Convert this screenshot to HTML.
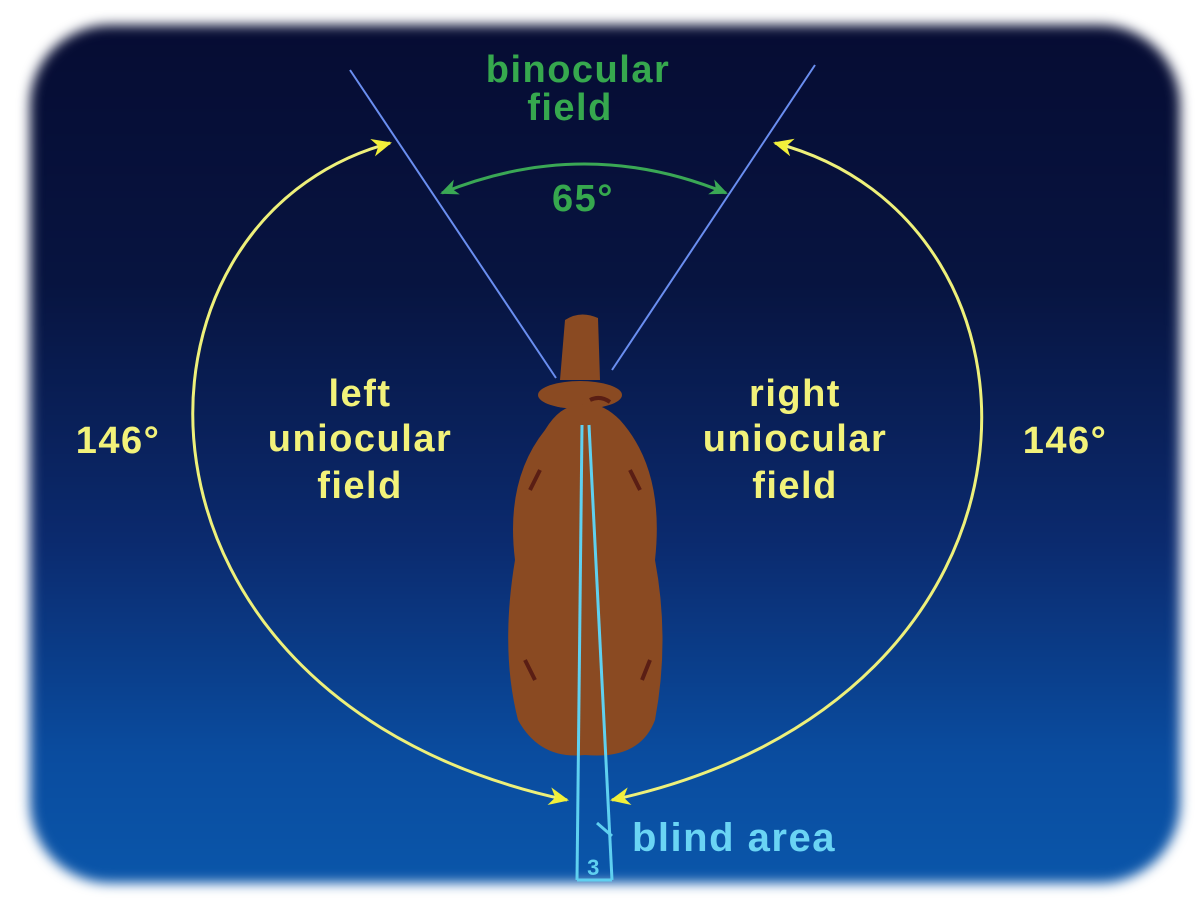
<!DOCTYPE html>
<html><head><meta charset="utf-8"><style>
html,body{margin:0;padding:0;background:#fff;}
#c{position:relative;width:1200px;height:899px;overflow:hidden;background:#fff;}
#bg{position:absolute;left:30px;top:25px;width:1150px;height:858px;border-radius:80px;
background:linear-gradient(#060c33 0%,#071440 30%,#0b2a6e 60%,#0a4c9f 85%,#0a56aa 100%);
filter:blur(6px);}
svg{position:absolute;left:0;top:0;}
text{font-family:"Liberation Sans",Arial,sans-serif;font-weight:bold;letter-spacing:1.5px;}
</style></head><body><div id="c"><div id="bg"></div>
<svg width="1200" height="899" viewBox="0 0 1200 899">
<defs>
<marker id="ay" markerWidth="20" markerHeight="20" refX="18" refY="10" orient="auto" markerUnits="userSpaceOnUse" viewBox="0 0 20 20"><path d="M0,1 L20,10 L0,19 L6,10 Z" fill="#f2f03a"/></marker>
<marker id="ay0" markerWidth="20" markerHeight="20" refX="2" refY="10" orient="auto" markerUnits="userSpaceOnUse" viewBox="0 0 20 20"><path d="M20,1 L0,10 L20,19 L14,10 Z" fill="#f2f03a"/></marker>
<marker id="ag" markerWidth="18" markerHeight="18" refX="16" refY="9" orient="auto" markerUnits="userSpaceOnUse" viewBox="0 0 18 18"><path d="M0,1 L18,9 L0,17 L5,9 Z" fill="#3aa855"/></marker>
<marker id="ag0" markerWidth="18" markerHeight="18" refX="2" refY="9" orient="auto" markerUnits="userSpaceOnUse" viewBox="0 0 18 18"><path d="M18,1 L0,9 L18,17 L13,9 Z" fill="#3aa855"/></marker>
</defs>
<g fill="#8a4a22">
<path d="M565,320 Q580,310 598,318 L600,380 L560,380 Z"/>
<ellipse cx="580" cy="395" rx="42" ry="14"/>
<path d="M545,430 Q505,480 515,560 Q500,650 518,720 Q540,760 585,755 Q640,760 655,720 Q670,640 655,560 Q665,470 620,420 Q600,400 580,405 Q560,405 545,430 Z"/>
</g>
<g stroke="#5a1e14" stroke-width="4" fill="none">
<path d="M540,470 L530,490"/><path d="M630,470 L640,490"/><path d="M525,660 L535,680"/><path d="M650,660 L642,680"/>
<path d="M590,400 Q600,395 610,402"/>
</g>
<line x1="350" y1="70" x2="556" y2="378" stroke="#6a8ef0" stroke-width="2"/>
<line x1="815" y1="65" x2="612" y2="370" stroke="#6a8ef0" stroke-width="2"/>
<path d="M442,193 Q585,135 726,193" fill="none" stroke="#3aa855" stroke-width="3" marker-start="url(#ag0)" marker-end="url(#ag)"/>
<path d="M390,143 C105,220 100,700 567,800" fill="none" stroke="#eef07a" stroke-width="3" marker-start="url(#ay0)" marker-end="url(#ay)"/>
<path d="M775,143 C1072,220 1075,700 612,800" fill="none" stroke="#eef07a" stroke-width="3" marker-start="url(#ay0)" marker-end="url(#ay)"/>
<g stroke="#5fd0f0" stroke-width="3" fill="none">
<line x1="582" y1="425" x2="577" y2="880"/>
<line x1="589" y1="425" x2="612" y2="880"/>
<line x1="577" y1="880" x2="612" y2="880"/>
<line x1="597" y1="823" x2="612" y2="836"/>
</g>
<text x="594" y="875" font-size="22" fill="#5fd0f0" text-anchor="middle" font-weight="normal">3</text>
<g fill="#36a84e" font-size="38" text-anchor="middle">
<text x="578" y="82">binocular</text>
<text x="570" y="120">field</text>
<text x="583" y="211">65°</text>
</g>
<g fill="#f2f27a" font-size="38" text-anchor="middle">
<text x="360" y="406">left</text>
<text x="360" y="451">uniocular</text>
<text x="360" y="498">field</text>
<text x="795" y="406">right</text>
<text x="795" y="451">uniocular</text>
<text x="795" y="498">field</text>
<text x="118" y="453">146°</text>
<text x="1065" y="453">146°</text>
</g>
<text x="632" y="851" font-size="40" fill="#6ad4f4" font-weight="normal" letter-spacing="1">blind area</text>
</svg></div></body></html>
